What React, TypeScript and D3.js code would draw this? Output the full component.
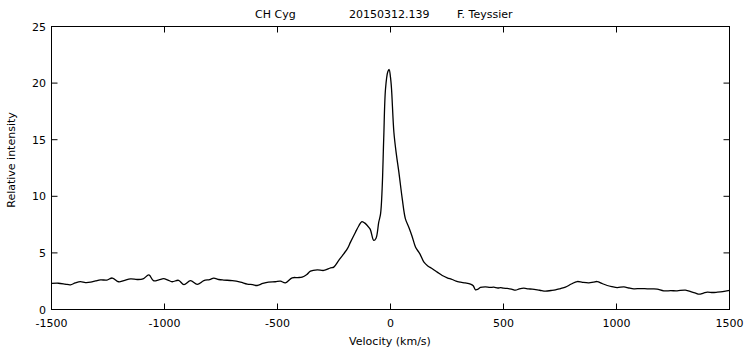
import React from "react";
import * as d3 from "d3";

const velocities: number[] = [
  -1500, -1470, -1440, -1416, -1395, -1372, -1350, -1327, -1305, -1283, -1255, -1231, -1203, -1180, -1150,
  -1121, -1095, -1069, -1049, -1025, -1004, -985, -966, -938, -914, -885, -855, -826, -800, -782, -760,
  -738, -700, -664, -634, -610, -590, -565, -540, -510, -487, -465, -435, -410, -391, -370, -354, -324,
  -295, -265, -251, -229, -207, -190, -177, -155, -140, -128, -115, -103, -90, -74, -64, -52, -44, -37,
  -30, -22, -12, -6, 0, 4.5, 15, 26, 37, 52, 66, 81, 95, 111, 130, 148, 165, 185, 207, 229, 251, 273,
  290, 310, 330, 354, 366, 376, 386, 398, 420, 440, 457, 475, 487, 500, 516, 535, 553, 570, 590, 610,
  627, 660, 686, 710, 730, 752, 774, 800, 826, 850, 878, 898, 915, 935, 959, 980, 1003, 1033, 1055,
  1077, 1105, 1136, 1160, 1180, 1209, 1240, 1268, 1305, 1335, 1350, 1365, 1385, 1402, 1425, 1446, 1470, 1500,
];

const intensities: number[] = [
  2.3, 2.32, 2.25, 2.18, 2.35, 2.47, 2.38, 2.41, 2.52, 2.62, 2.6, 2.78, 2.45, 2.55, 2.7,
  2.65, 2.7, 3.05, 2.55, 2.62, 2.72, 2.6, 2.45, 2.58, 2.2, 2.55, 2.22, 2.55, 2.65, 2.78, 2.65,
  2.6, 2.55, 2.42, 2.25, 2.2, 2.12, 2.3, 2.42, 2.45, 2.5, 2.36, 2.8, 2.82, 2.86, 3.1, 3.39, 3.5,
  3.45, 3.68, 3.74, 4.33, 4.92, 5.4, 5.95, 6.83, 7.4, 7.75, 7.65, 7.42, 7.1, 6.1, 6.3, 7.71, 8.45, 10.66,
  15.1, 19.5, 21.0, 21.2, 20.5, 19.5, 15.66, 13.7, 12.13, 9.78, 8.01, 7.27, 6.5, 5.5, 4.92, 4.18, 3.85, 3.6, 3.3, 3.0, 2.8, 2.65,
  2.5, 2.41, 2.35, 2.25, 2.1, 1.74, 1.78, 1.95, 2.0, 1.95, 1.97, 1.9, 1.94, 1.88, 1.86, 1.8, 1.71, 1.82, 1.88, 1.82,
  1.8, 1.7, 1.62, 1.68, 1.74, 1.85, 1.97, 2.25, 2.47, 2.4, 2.36, 2.42, 2.47, 2.3, 2.12, 2.02, 1.94, 2.0, 1.9,
  1.83, 1.85, 1.83, 1.82, 1.8, 1.65, 1.66, 1.65, 1.71, 1.53, 1.45, 1.35, 1.45, 1.53, 1.5, 1.53, 1.58, 1.68,
];

const xTicks: number[] = [-1500, -1000, -500, 0, 500, 1000, 1500];
const yTicks: number[] = [0, 5, 10, 15, 20, 25];
const titleParts: string[] = ["CH Cyg", "20150312.139", "F. Teyssier"];
const xLabel = "Velocity (km/s)";
const yLabel = "Relative intensity";

export default function App() {
  const W = 750;
  const H = 350;
  const x = d3.scaleLinear().domain([-1500, 1500]).range([51.5, 729.5]);
  const y = d3.scaleLinear().domain([0, 25]).range([309.5, 26.5]);
  const pts: [number, number][] = velocities.map((v, i) => [v, intensities[i]]);
  const line = d3
    .line<[number, number]>()
    .x((d) => x(d[0]))
    .y((d) => y(d[1]))
    .curve(d3.curveCatmullRom.alpha(0.5));
  const font = "'DejaVu Sans', Verdana, sans-serif";
  const tl = 6;
  const titleX = [255, 349, 457];
  return (
    <svg
      width={W}
      height={H}
      style={{ position: "absolute", left: 0, top: 0, background: "#fff" }}
      fontFamily={font}
      fontSize={11}
    >
      <rect x={0} y={0} width={W} height={H} fill="#fff" />
      {titleParts.map((t, i) => (
        <text key={t} x={titleX[i]} y={18} fill="#000">
          {t}
        </text>
      ))}
      <rect
        x={x(-1500)}
        y={y(25)}
        width={x(1500) - x(-1500)}
        height={y(0) - y(25)}
        fill="none"
        stroke="#000"
        strokeWidth={1}
      />
      {xTicks.map((t) => (
        <g key={"x" + t}>
          <line x1={x(t)} x2={x(t)} y1={y(0)} y2={y(0) - tl} stroke="#000" />
          <line x1={x(t)} x2={x(t)} y1={y(25)} y2={y(25) + tl} stroke="#000" />
          <text x={x(t)} y={327} textAnchor="middle" fill="#000">
            {t}
          </text>
        </g>
      ))}
      {yTicks.map((t) => (
        <g key={"y" + t}>
          <line x1={x(-1500)} x2={x(-1500) + tl} y1={y(t)} y2={y(t)} stroke="#000" />
          <line x1={x(1500)} x2={x(1500) - tl} y1={y(t)} y2={y(t)} stroke="#000" />
          <text x={46} y={y(t) + 4} textAnchor="end" fill="#000">
            {t}
          </text>
        </g>
      ))}
      <path d={line(pts) || ""} fill="none" stroke="#000" strokeWidth={1.3} strokeLinejoin="round" />
      <text x={390} y={345} textAnchor="middle" fill="#000">
        {xLabel}
      </text>
      <text
        transform={`translate(15,${160}) rotate(-90)`}
        textAnchor="middle"
        fill="#000"
      >
        {yLabel}
      </text>
    </svg>
  );
}
